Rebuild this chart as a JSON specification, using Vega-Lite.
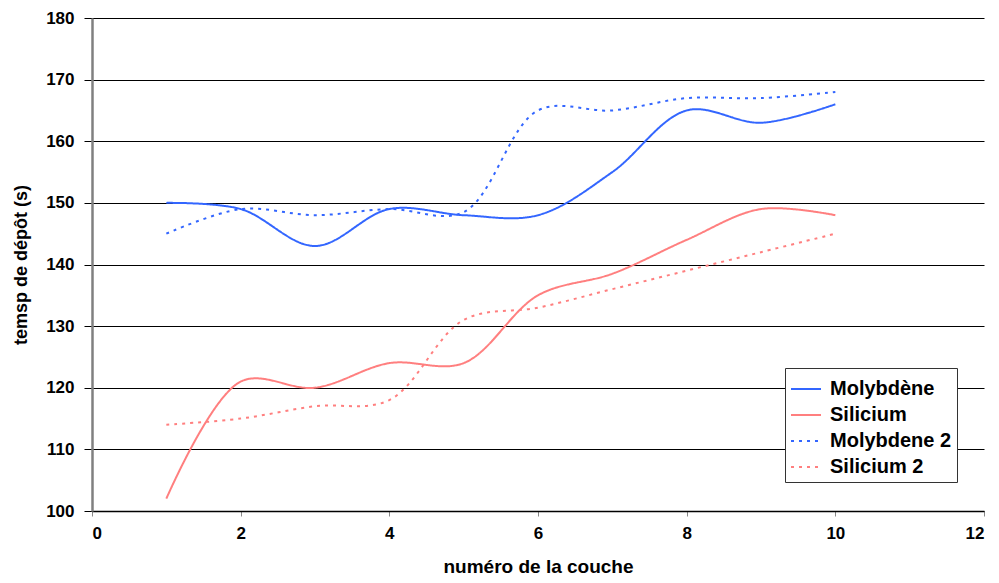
{
  "$schema": "https://vega.github.io/schema/vega-lite/v6.json",
  "width": 892,
  "height": 493,
  "autosize": {"type": "none"},
  "padding": {"left": 92, "top": 18, "right": 15, "bottom": 72},
  "background": "white",
  "config": {
    "view": {"stroke": null},
    "font": "Liberation Sans"
  },
  "data": {
    "values": [
      {"serie": "Molybdène", "x": 1, "y": 150},
      {"serie": "Molybdène", "x": 2, "y": 149},
      {"serie": "Molybdène", "x": 3, "y": 143},
      {"serie": "Molybdène", "x": 4, "y": 149},
      {"serie": "Molybdène", "x": 5, "y": 148},
      {"serie": "Molybdène", "x": 6, "y": 148},
      {"serie": "Molybdène", "x": 7, "y": 155},
      {"serie": "Molybdène", "x": 8, "y": 165},
      {"serie": "Molybdène", "x": 9, "y": 163},
      {"serie": "Molybdène", "x": 10, "y": 166},
      {"serie": "Silicium", "x": 1, "y": 102},
      {"serie": "Silicium", "x": 2, "y": 121},
      {"serie": "Silicium", "x": 3, "y": 120},
      {"serie": "Silicium", "x": 4, "y": 124},
      {"serie": "Silicium", "x": 5, "y": 124},
      {"serie": "Silicium", "x": 6, "y": 135},
      {"serie": "Silicium", "x": 7, "y": 138.5},
      {"serie": "Silicium", "x": 8, "y": 144},
      {"serie": "Silicium", "x": 9, "y": 149},
      {"serie": "Silicium", "x": 10, "y": 148},
      {"serie": "Molybdene 2", "x": 1, "y": 145},
      {"serie": "Molybdene 2", "x": 2, "y": 149},
      {"serie": "Molybdene 2", "x": 3, "y": 148},
      {"serie": "Molybdene 2", "x": 4, "y": 149},
      {"serie": "Molybdene 2", "x": 5, "y": 148.5},
      {"serie": "Molybdene 2", "x": 6, "y": 165},
      {"serie": "Molybdene 2", "x": 7, "y": 165},
      {"serie": "Molybdene 2", "x": 8, "y": 167},
      {"serie": "Molybdene 2", "x": 9, "y": 167},
      {"serie": "Molybdene 2", "x": 10, "y": 168},
      {"serie": "Silicium 2", "x": 1, "y": 114},
      {"serie": "Silicium 2", "x": 2, "y": 115},
      {"serie": "Silicium 2", "x": 3, "y": 117},
      {"serie": "Silicium 2", "x": 4, "y": 118},
      {"serie": "Silicium 2", "x": 5, "y": 131},
      {"serie": "Silicium 2", "x": 6, "y": 133},
      {"serie": "Silicium 2", "x": 7, "y": 136},
      {"serie": "Silicium 2", "x": 8, "y": 139},
      {"serie": "Silicium 2", "x": 9, "y": 142},
      {"serie": "Silicium 2", "x": 10, "y": 145}
    ]
  },
  "mark": {"type": "line", "interpolate": "catmull-rom", "strokeWidth": 2},
  "encoding": {
    "x": {
      "field": "x", "type": "quantitative",
      "scale": {"domain": [0, 12], "nice": false},
      "axis": {
        "title": "numéro de la couche", "values": [0, 2, 4, 6, 8, 10, 12],
        "grid": false, "domainColor": "black", "domainWidth": 1.5,
        "tickColor": "#888888", "tickSize": 5,
        "labelFont": "Liberation Sans", "labelFontWeight": "bold", "labelFontSize": 17, "labelColor": "black",
        "labelPadding": 9,
        "titleFont": "Liberation Sans", "titleFontWeight": "bold", "titleFontSize": 19, "titleColor": "black",
        "titlePadding": 16
      }
    },
    "y": {
      "field": "y", "type": "quantitative",
      "scale": {"domain": [100, 180], "nice": false, "zero": false},
      "axis": {
        "title": "temsp de dépôt (s)", "values": [100, 110, 120, 130, 140, 150, 160, 170, 180],
        "grid": true, "gridColor": "black", "gridWidth": 1,
        "domainColor": "#808080", "domainWidth": 2.5,
        "tickColor": "black", "tickSize": 8,
        "labelFont": "Liberation Sans", "labelFontWeight": "bold", "labelFontSize": 17, "labelColor": "black",
        "labelPadding": 10,
        "titleFont": "Liberation Sans", "titleFontWeight": "bold", "titleFontSize": 18, "titleColor": "black",
        "titlePadding": 15
      }
    },
    "color": {
      "field": "serie", "type": "nominal",
      "scale": {
        "domain": ["Molybdène", "Silicium", "Molybdene 2", "Silicium 2"],
        "range": ["#3366FF", "#FF7F7F", "#3366FF", "#FF7F7F"]
      },
      "legend": {
        "title": null, "orient": "none", "legendX": 693, "legendY": 350,
        "strokeColor": "#333333", "fillColor": "white", "padding": 5,
        "symbolType": "stroke", "symbolSize": 900, "symbolStrokeWidth": 2,
        "labelFont": "Liberation Sans", "labelFontWeight": "bold", "labelFontSize": 20, "labelColor": "black",
        "rowPadding": 0, "labelOffset": 8
      }
    },
    "strokeDash": {
      "field": "serie", "type": "nominal",
      "scale": {
        "domain": ["Molybdène", "Silicium", "Molybdene 2", "Silicium 2"],
        "range": [[1, 0], [1, 0], [3, 5], [3, 5]]
      },
      "legend": null
    }
  }
}
